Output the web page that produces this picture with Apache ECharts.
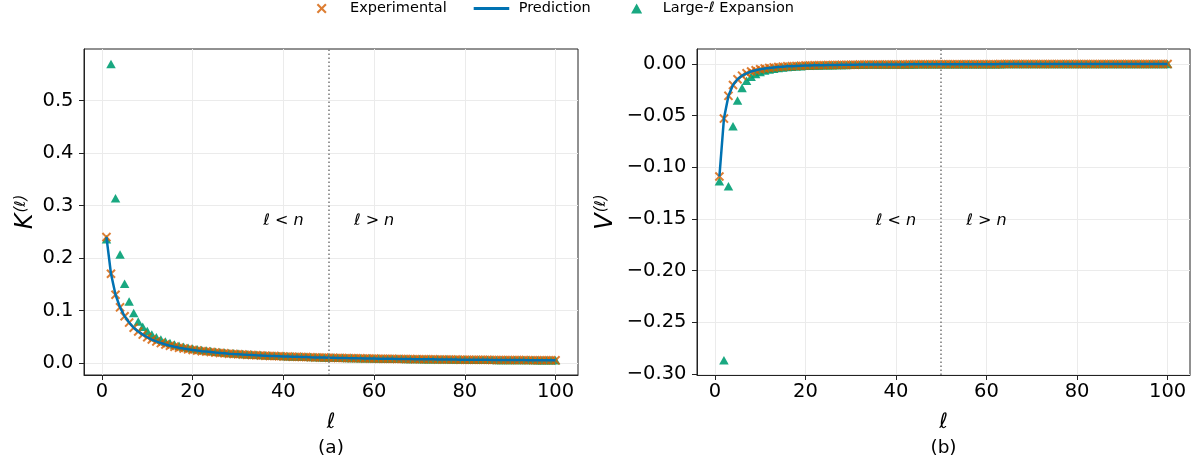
<!DOCTYPE html>
<html>
<head>
<meta charset="utf-8">
<script src="https://cdn.jsdelivr.net/npm/echarts@6/dist/echarts.min.js"></script>
<style>
  html, body { margin: 0; padding: 0; background: #ffffff; }
  #chart { width: 1202px; height: 466px; }
</style>
</head>
<body>
<div id="chart"></div>
<script>
// Angular momentum index ℓ
const ell = [1,2,3,4,5,6,7,8,9,10,11,12,13,14,15,16,17,18,19,20,
  21,22,23,24,25,26,27,28,29,30,31,32,33,34,35,36,37,38,39,40,
  41,42,43,44,45,46,47,48,49,50,51,52,53,54,55,56,57,58,59,60,
  61,62,63,64,65,66,67,68,69,70,71,72,73,74,75,76,77,78,79,80,
  81,82,83,84,85,86,87,88,89,90,91,92,93,94,95,96,97,98,99,100];

// K^(ℓ): measured values (the prediction curve follows them)
const experimentalK = [0.2400,0.1700,0.1300,0.1060,0.0890,0.0770,0.0670,0.0600,0.0540,0.0490,
  0.0446,0.0410,0.0379,0.0352,0.0329,0.0309,0.0291,0.0275,0.0260,0.0248,
  0.0236,0.0225,0.0216,0.0207,0.0198,0.0191,0.0184,0.0177,0.0171,0.0166,
  0.0160,0.0155,0.0151,0.0146,0.0142,0.0138,0.0134,0.0131,0.0128,0.0124,
  0.0121,0.0118,0.0116,0.0113,0.0111,0.0108,0.0106,0.0104,0.0102,0.0100,
  0.0098,0.0096,0.0094,0.0092,0.0091,0.0089,0.0087,0.0086,0.0084,0.0083,
  0.0082,0.0080,0.0079,0.0078,0.0077,0.0076,0.0074,0.0073,0.0072,0.0071,
  0.0070,0.0069,0.0068,0.0067,0.0066,0.0066,0.0065,0.0064,0.0063,0.0062,
  0.0062,0.0061,0.0060,0.0059,0.0059,0.0058,0.0057,0.0057,0.0056,0.0055,
  0.0055,0.0054,0.0054,0.0053,0.0053,0.0052,0.0051,0.0051,0.0050,0.0050];
const predictionK = experimentalK;
const expansionK = [0.2360,0.5700,0.3140,0.2070,0.1510,0.1170,0.0950,0.0790,0.0689,0.0609,
  0.0544,0.0491,0.0448,0.0411,0.0380,0.0353,0.0330,0.0310,0.0291,0.0276,
  0.0261,0.0248,0.0237,0.0226,0.0215,0.0207,0.0199,0.0191,0.0184,0.0178,
  0.0171,0.0165,0.0161,0.0155,0.0151,0.0146,0.0142,0.0138,0.0135,0.0130,
  0.0127,0.0124,0.0122,0.0118,0.0116,0.0113,0.0111,0.0108,0.0106,0.0104,
  0.0102,0.0100,0.0098,0.0095,0.0094,0.0092,0.0090,0.0089,0.0087,0.0086,
  0.0084,0.0082,0.0081,0.0080,0.0079,0.0078,0.0076,0.0075,0.0074,0.0073,
  0.0072,0.0071,0.0070,0.0069,0.0068,0.0068,0.0067,0.0066,0.0065,0.0064,
  0.0063,0.0062,0.0061,0.0060,0.0060,0.0059,0.0058,0.0058,0.0057,0.0056,
  0.0056,0.0055,0.0055,0.0054,0.0054,0.0053,0.0052,0.0052,0.0051,0.0051];

// V^(ℓ)
const experimentalV = [-0.1090,-0.0530,-0.0310,-0.0205,-0.0150,-0.0115,-0.0092,-0.0075,-0.0063,-0.0053,
  -0.0046,-0.0040,-0.0035,-0.0031,-0.0028,-0.0025,-0.0023,-0.0021,-0.0019,-0.0017,
  -0.0016,-0.0015,-0.0014,-0.0013,-0.0012,-0.0011,-0.0011,-0.0010,-0.0010,-0.0009,
  -0.0009,-0.0008,-0.0008,-0.0008,-0.0007,-0.0007,-0.0007,-0.0006,-0.0006,-0.0006,
  -0.0006,-0.0006,-0.0005,-0.0005,-0.0005,-0.0005,-0.0005,-0.0005,-0.0004,-0.0004,
  -0.0004,-0.0004,-0.0004,-0.0004,-0.0004,-0.0004,-0.0004,-0.0004,-0.0004,-0.0004,
  -0.0004,-0.0004,-0.0003,-0.0003,-0.0003,-0.0003,-0.0003,-0.0003,-0.0003,-0.0003,
  -0.0003,-0.0003,-0.0003,-0.0003,-0.0003,-0.0003,-0.0003,-0.0003,-0.0003,-0.0003,
  -0.0003,-0.0003,-0.0003,-0.0003,-0.0003,-0.0002,-0.0002,-0.0002,-0.0002,-0.0002,
  -0.0002,-0.0002,-0.0002,-0.0002,-0.0002,-0.0002,-0.0002,-0.0002,-0.0002,-0.0002];
const predictionV = experimentalV;
const expansionV = [-0.1136,-0.2867,-0.1184,-0.0605,-0.0354,-0.0235,-0.0165,-0.0125,-0.0098,-0.0079,
  -0.0065,-0.0055,-0.0047,-0.0040,-0.0036,-0.0031,-0.0028,-0.0025,-0.0023,-0.0020,
  -0.0019,-0.0017,-0.0016,-0.0015,-0.0014,-0.0013,-0.0012,-0.0011,-0.0011,-0.0010,
  -0.0010,-0.0009,-0.0009,-0.0008,-0.0008,-0.0008,-0.0007,-0.0007,-0.0007,-0.0006,
  -0.0006,-0.0006,-0.0006,-0.0006,-0.0005,-0.0005,-0.0005,-0.0005,-0.0005,-0.0005,
  -0.0004,-0.0004,-0.0004,-0.0004,-0.0004,-0.0004,-0.0004,-0.0004,-0.0004,-0.0004,
  -0.0004,-0.0004,-0.0004,-0.0003,-0.0003,-0.0003,-0.0003,-0.0003,-0.0003,-0.0003,
  -0.0003,-0.0003,-0.0003,-0.0003,-0.0003,-0.0003,-0.0003,-0.0003,-0.0003,-0.0003,
  -0.0003,-0.0003,-0.0003,-0.0003,-0.0003,-0.0002,-0.0002,-0.0002,-0.0002,-0.0002,
  -0.0002,-0.0002,-0.0002,-0.0002,-0.0002,-0.0002,-0.0002,-0.0002,-0.0002,-0.0002];

// Tick labels
const ellTicks = [0, 20, 40, 60, 80, 100];
const kTicks = [0, 0.1, 0.2, 0.3, 0.4, 0.5];
const vTicks = [-0.30, -0.25, -0.20, -0.15, -0.10, -0.05, 0];

const SERIES_NAMES = ['Experimental', 'Prediction', 'Large-\u2113 Expansion'];
const FONT = 'DejaVu Sans';
const C_EXP = '#d55e00', C_PRED = '#0072b2', C_LARGE = '#009e73';
const TICK_FONT = 19.5;

// marker shapes
const CROSS = 'path://M0,1.5L1.5,0L5,3.5L8.5,0L10,1.5L6.5,5L10,8.5L8.5,10L5,6.5L1.5,10L0,8.5L3.5,5Z';
// legend icons: a 40x12 box (tiny corner specks pin the box), glyph drawn inside it
const BOX = 'M0,0L0.01,0L0,0.01Z M40,12L39.99,12L40,11.99Z ';
const ICON_CROSS = 'path://' + BOX +
  'M11.67,2.5L13.17,1L16.67,4.5L20.17,1L21.67,2.5L18.17,6L21.67,9.5L20.17,11L16.67,7.5L13.17,11L11.67,9.5L15.17,6Z';
const ICON_LINE = 'path://' + BOX + 'M0,4.61L35.56,4.61L35.56,7.39L0,7.39Z';
const ICON_TRI = 'path://' + BOX + 'M13.35,11L18.9,1L24.45,11Z';

const pairs = ys => ell.map((x, i) => [x, ys[i]]);

const chart = echarts.init(document.getElementById('chart'), null, { renderer: 'canvas' });

function xAxisFor(gridIndex) {
  return {
    type: 'value', gridIndex, min: -3.95, max: 104.95,
    minInterval: 20, maxInterval: 20, splitNumber: 5,
    name: '\u2113', nameLocation: 'middle', nameGap: 37,
    nameTextStyle: { fontFamily: FONT, fontSize: 21, fontStyle: 'italic', color: '#000' },
    axisLine: { show: true, onZero: false, lineStyle: { color: '#222', width: 1 } },
    axisTick: { show: true, length: 5, inside: false, customValues: ellTicks, lineStyle: { color: '#222', width: 1 } },
    axisLabel: { customValues: ellTicks, margin: 7, fontFamily: FONT, fontSize: TICK_FONT, color: '#000' },
    splitLine: { show: true, lineStyle: { color: '#ebebeb', width: 1 } }
  };
}

function yAxisFor(gridIndex, min, max, step, ticks, digits, symbol, gap) {
  return {
    type: 'value', gridIndex, min, max,
    minInterval: step, maxInterval: step,
    name: '{k|' + symbol + '}{s|(\u2113)}', nameLocation: 'middle', nameRotate: 90, nameGap: gap,
    nameTextStyle: {
      rich: {
        k: { fontFamily: FONT, fontSize: 24, fontStyle: 'italic', color: '#000' },
        s: { fontFamily: FONT, fontSize: 15, fontStyle: 'italic', color: '#000', verticalAlign: 'top', padding: [0, 0, 8, 1] }
      }
    },
    axisLine: { show: true, onZero: false, lineStyle: { color: '#222', width: 1 } },
    axisTick: { show: true, length: 5, customValues: ticks, lineStyle: { color: '#222', width: 1 } },
    axisLabel: {
      customValues: ticks, margin: 10.5, fontFamily: FONT, fontSize: TICK_FONT, color: '#000',
      formatter: v => v.toFixed(digits).replace('-', '\u2212')
    },
    splitLine: { show: true, lineStyle: { color: '#ebebeb', width: 1 } }
  };
}

function panelSeries(idx, large, pred, exp, labelY) {
  return [
    {
      name: SERIES_NAMES[2], type: 'scatter', xAxisIndex: idx, yAxisIndex: idx,
      symbol: 'triangle', symbolSize: [9.5, 8.5],
      itemStyle: { color: C_LARGE, opacity: 0.9 },
      data: pairs(large)
    },
    {
      name: SERIES_NAMES[1], type: 'line', xAxisIndex: idx, yAxisIndex: idx,
      showSymbol: false, symbol: 'none', smooth: false,
      lineStyle: { color: C_PRED, width: 2.5 },
      itemStyle: { color: C_PRED },
      data: pairs(pred),
      markLine: {
        silent: true, symbol: ['none', 'none'],
        label: { show: false },
        lineStyle: { color: '#777', width: 1.5, type: [1.5, 2.5] },
        data: [{ xAxis: 50 }]
      },
      markPoint: {
        silent: true, symbol: 'circle', symbolSize: 0,
        label: {
          show: true, position: 'inside', formatter: '{b}',
          fontFamily: FONT, fontSize: 16, fontStyle: 'italic', color: '#000'
        },
        data: [
          { name: '\u2113 < n', coord: [40, labelY] },
          { name: '\u2113 > n', coord: [60, labelY] }
        ]
      }
    },
    {
      name: SERIES_NAMES[0], type: 'scatter', xAxisIndex: idx, yAxisIndex: idx,
      symbol: CROSS, symbolSize: 9.5,
      itemStyle: { color: C_EXP },
      data: pairs(exp)
    }
  ];
}

const option = {
  backgroundColor: '#ffffff',
  animation: false,
  textStyle: { fontFamily: FONT },
  legend: {
    top: 1, left: 305, padding: 0, itemWidth: 40, itemHeight: 12, itemGap: 27,
    textStyle: { fontFamily: FONT, fontSize: 14.5, color: '#000' },
    data: [
      { name: SERIES_NAMES[0], icon: ICON_CROSS },
      { name: SERIES_NAMES[1], icon: ICON_LINE },
      { name: SERIES_NAMES[2], icon: ICON_TRI }
    ]
  },
  grid: [
    { left: 84, top: 49, width: 494, height: 326, show: true, borderColor: '#222', borderWidth: 1, backgroundColor: 'transparent' },
    { left: 697, top: 49, width: 493, height: 326, show: true, borderColor: '#222', borderWidth: 1, backgroundColor: 'transparent' }
  ],
  xAxis: [xAxisFor(0), xAxisFor(1)],
  yAxis: [
    yAxisFor(0, -0.023, 0.5986, 0.1, kTicks, 1, 'K', 46),
    yAxisFor(1, -0.301, 0.0143, 0.05, vTicks, 2, 'V', 79)
  ],
  series: [
    ...panelSeries(0, expansionK, predictionK, experimentalK, 0.27),
    ...panelSeries(1, expansionV, predictionV, experimentalV, -0.152)
  ],
  graphic: [
    { type: 'text', x: 331, y: 448, style: { text: '(a)', align: 'center', verticalAlign: 'middle', font: '18.5px "DejaVu Sans"', fill: '#000' } },
    { type: 'text', x: 943.5, y: 448, style: { text: '(b)', align: 'center', verticalAlign: 'middle', font: '18.5px "DejaVu Sans"', fill: '#000' } }
  ]
};

chart.setOption(option);
</script>
</body>
</html>
